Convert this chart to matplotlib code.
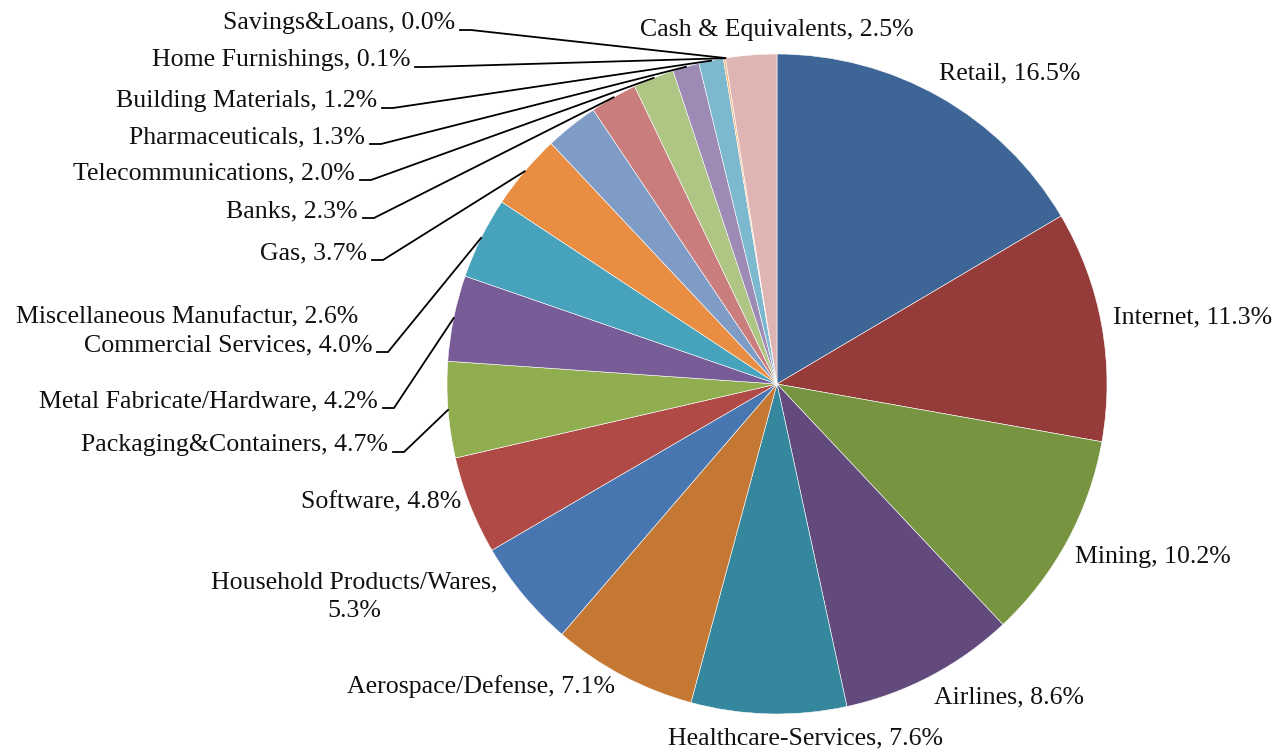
import numpy as np
import matplotlib
matplotlib.use('Agg')
import matplotlib.pyplot as plt

# sector weights, clockwise from 12 o'clock
sectors = ['Retail', 'Internet', 'Mining', 'Airlines', 'Healthcare-Services',
           'Aerospace/Defense', 'Household Products/Wares', 'Software',
           'Packaging&Containers', 'Metal Fabricate/Hardware', 'Commercial Services',
           'Gas', 'Miscellaneous Manufactur', 'Banks', 'Telecommunications',
           'Pharmaceuticals', 'Building Materials', 'Home Furnishings',
           'Savings&Loans', 'Cash & Equivalents']
weights = [16.5, 11.3, 10.2, 8.6, 7.6, 7.1, 5.3, 4.8, 4.7, 4.2, 4.0,
           3.7, 2.6, 2.3, 2.0, 1.3, 1.2, 0.1, 0.0, 2.5]
colors = ['#3D6596', '#953B39', '#779441', '#624B7C', '#35879D', '#C47834',
          '#4876B0', '#B04A47', '#90AE50', '#785C98', '#47A2BC', '#E88D41',
          '#7F9CC7', '#C97D7C', '#AEC584', '#9D8AB5', '#7CB9CF', '#F6AF73',
          '#F0C8A0', '#DFB5B4']

# label layout in pixels: (x, y, ha, leader)
layout = {
    'Retail': (939, 73, 'left', False),
    'Internet': (1113, 317, 'left', False),
    'Mining': (1075, 557, 'left', False),
    'Airlines': (934, 697, 'left', False),
    'Healthcare-Services': (668, 738, 'left', False),
    'Aerospace/Defense': (615, 687, 'right', False),
    'Household Products/Wares': (354, 597, 'center', False),
    'Software': (461, 502, 'right', False),
    'Packaging&Containers': (388, 445, 'right', True),
    'Metal Fabricate/Hardware': (378, 401, 'right', True),
    'Commercial Services': (372, 345, 'right', True),
    'Gas': (367, 253, 'right', True),
    'Miscellaneous Manufactur': (358, 317, 'right', False),
    'Banks': (358, 211, 'right', True),
    'Telecommunications': (355, 173, 'right', True),
    'Pharmaceuticals': (365, 137, 'right', True),
    'Building Materials': (377, 101, 'right', True),
    'Home Furnishings': (410, 60, 'right', True),
    'Savings&Loans': (455, 23, 'right', True),
    'Cash & Equivalents': (640, 30, 'left', False),
}

W, H = 1276, 751
cx, cy, rad = 777, 384, 330

fig = plt.figure(figsize=(W / 100, H / 100), dpi=100)
ax = fig.add_axes([0, 0, 1, 1])

# y axis runs downward, so counterclock in data = clockwise on screen
wedges, _ = ax.pie(weights, colors=colors, startangle=-90, counterclock=True,
                   center=(cx, cy), radius=rad,
                   wedgeprops=dict(edgecolor='white', linewidth=0.4))
ax.set_xlim(0, W)
ax.set_ylim(H, 0)
ax.set_aspect('equal')
ax.axis('off')

font = dict(family='Liberation Serif', size=18.6, color='#111111')

for name, val, w in zip(sectors, weights, wedges):
    x, y, ha, leader = layout[name]
    if name == 'Household Products/Wares':
        txt = f'{name},\n{val:.1f}%'
    else:
        txt = f'{name}, {val:.1f}%'
    ax.text(x, y, txt, ha=ha, va='center', linespacing=1.4, **font)
    if leader:
        mid = np.deg2rad((w.theta1 + w.theta2) / 2)
        px = cx + rad * np.cos(mid)
        py = cy + rad * np.sin(mid)
        sy = y + 7
        ax.plot([x + 5, x + 16, px], [sy, sy, py], color='black', lw=1.3,
                solid_joinstyle='miter')

fig.savefig('out.png', dpi=100)
